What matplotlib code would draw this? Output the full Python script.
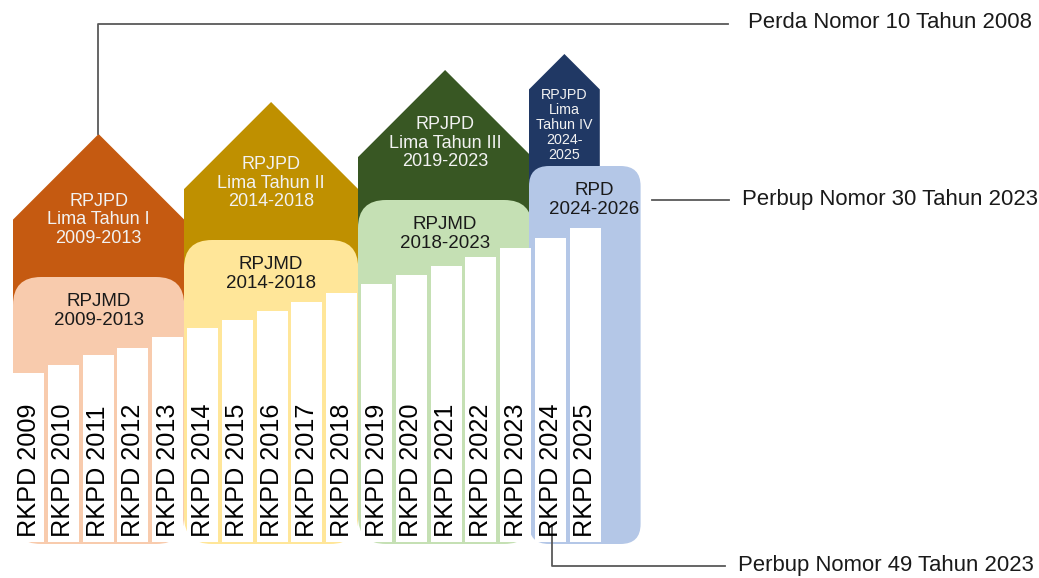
import matplotlib.pyplot as plt
from matplotlib.patches import Polygon, FancyBboxPatch

# RKPD yearly plans (bar heights in pixel units above the baseline)
years = list(range(2009, 2026))
rkpd_heights = [169, 177, 187, 194, 205, 214, 222, 231, 240, 249, 258, 267, 276, 285, 294, 304, 314]

# RPJPD five-year plans (house shapes)
rpjpd_labels = ["RPJPD\nLima Tahun I\n2009-2013", "RPJPD\nLima Tahun II\n2014-2018",
                "RPJPD\nLima Tahun III\n2019-2023", "RPJPD\nLima\nTahun IV\n2024-\n2025"]
rpjpd_start = [2009, 2014, 2019, 2024]
rpjpd_end = [2013, 2018, 2023, 2025]
rpjpd_peak = [444, 476, 508, 524]
rpjpd_colors = ["#C55A11", "#BF9000", "#385723", "#203864"]

# RPJMD / RPD medium term plans (rounded boxes)
rpjmd_labels = ["RPJMD\n2009-2013", "RPJMD\n2014-2018", "RPJMD\n2018-2023", "RPD\n2024-2026"]
rpjmd_start = [2009, 2014, 2019, 2024]
rpjmd_end = [2013, 2018, 2023, 2026]
rpjmd_top = [301, 338, 378, 412]
rpjmd_colors = ["#F8CBAD", "#FFE699", "#C5E0B4", "#B4C7E7"]

# regulation callouts
notes = ["Perda Nomor 10 Tahun 2008", "Perbup Nomor 30 Tahun 2023", "Perbup Nomor 49 Tahun 2023"]

X0, PITCH, BAR_W = 13, 34.8, 31
BASE = 36
BOX_BASE = 34
LEFT_PAD = [0, 3, 3, 6]


def slot_left(year):
    return X0 + PITCH * (year - years[0])


def slot_right(year):
    return slot_left(year) + BAR_W


fig = plt.figure(figsize=(10.39, 5.78), dpi=100)
ax = fig.add_axes([0, 0, 1, 1])
ax.set_xlim(0, 1039)
ax.set_ylim(0, 578)
ax.axis("off")

font = "Liberation Sans"

# house shaped RPJPD blocks
for i, lbl in enumerate(rpjpd_labels):
    left = slot_left(rpjpd_start[i]) - LEFT_PAD[i]
    right = slot_right(rpjpd_end[i]) + 1 - (2 if i == 3 else 0)
    mid = (left + right) / 2
    half = (right - left) / 2
    peak = rpjpd_peak[i]
    bottom = rpjmd_top[i] - 60
    pts = [(left, bottom), (left, peak - half), (mid, peak), (right, peak - half), (right, bottom)]
    ax.add_patch(Polygon(pts, closed=True, color=rpjpd_colors[i], lw=0, zorder=1))
    if i < 3:
        ax.text(mid, rpjmd_top[i] + 57, lbl, ha="center", va="center", color="#F2F2F2",
                fontsize=13, family=font, linespacing=1.1, zorder=5)
    else:
        ax.text(mid, rpjmd_top[i] + 41, lbl, ha="center", va="center", color="#F2F2F2",
                fontsize=10.3, family=font, linespacing=1.1, zorder=5)

# RPJMD / RPD rounded boxes
for i, lbl in enumerate(rpjmd_labels):
    left = slot_left(rpjmd_start[i]) - LEFT_PAD[i]
    right = slot_right(rpjmd_end[i]) + (5 if i == 3 else 1)
    rad = 20 if i == 3 else 28
    ax.add_patch(FancyBboxPatch((left, BOX_BASE), right - left, rpjmd_top[i] - BOX_BASE,
                                boxstyle=f"round,pad=0,rounding_size={rad}",
                                fc=rpjmd_colors[i], ec="none", zorder=2))
    cx = (left + right) / 2 + (9 if i == 3 else 0)
    ax.text(cx, rpjmd_top[i] - 34, lbl, ha="center", va="center", color="#1A1A1A",
            fontsize=13.5, family=font, linespacing=1.1, zorder=5)

# RKPD white bars
centers = [slot_left(y) + BAR_W / 2 for y in years]
ax.bar(centers, rkpd_heights, width=BAR_W, bottom=BASE, color="white", lw=0, zorder=3)
for cx, y in zip(centers, years):
    ax.text(cx, BASE + 5, f"RKPD {y}", rotation=90, ha="center", va="bottom",
            fontsize=18.2, family=["Liberation Sans Narrow", font], color="black", zorder=5)

# callout lines and texts
line_kw = dict(color="#595959", lw=1.3, zorder=4)
px = (slot_left(2009) + slot_right(2013)) / 2
ax.plot([px, px, 728], [rpjpd_peak[0], 554, 554], **line_kw)
ax.text(748, 555, notes[0], ha="left", va="center", fontsize=15.9, family=font, color="#1A1A1A")

ax.plot([652, 729], [378, 378], **line_kw)
ax.text(742, 378, notes[1], ha="left", va="center", fontsize=15.9, family=font, color="#1A1A1A")

bx = centers[years.index(2024)] + 1
ax.plot([bx, bx, 725], [53, 12, 12], **line_kw)
ax.text(738, 13, notes[2], ha="left", va="center", fontsize=15.9, family=font, color="#1A1A1A")

fig.savefig("out.png", dpi=100)
